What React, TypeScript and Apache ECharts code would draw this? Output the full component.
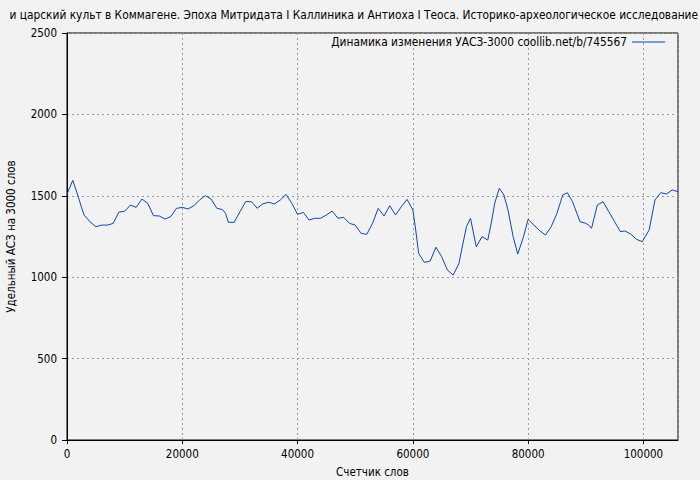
import React, { useEffect, useRef } from "react";
import * as echarts from "echarts";

const titleText =
  "и царский культ в Коммагене. Эпоха Митридата I Каллиника и Антиоха I Теоса. Историко-археологическое исследование";
const seriesName = "Динамика изменения УАСЗ-3000 coollib.net/b/745567";
const xAxisName = "Счетчик слов";
const yAxisName = "Удельный АСЗ на 3000 слов";

const wordCounts = [
  0, 1000, 2000, 2500, 3000, 4000, 5000, 6000, 7000, 8000, 9000, 10000, 11000, 12000, 13000, 14000,
  15000, 16000, 17000, 18000, 19000, 20000, 21000, 22000, 23000, 24000, 25000, 26000, 27000, 27500,
  28000, 29000, 30000, 31000, 32000, 33000, 34000, 35000, 36000, 37000, 38000, 39000, 40000, 41000,
  42000, 43000, 44000, 45000, 46000, 47000, 48000, 49000, 50000, 51000, 52000, 53000, 54000, 55000,
  56000, 57000, 58000, 59000, 60000, 60500, 61000, 62000, 63000, 64000, 65000, 66000, 67000, 68000,
  68700, 69300, 70000, 71000, 72000, 73000, 73700, 74200, 75000, 75800, 76500, 77400, 78200, 79200,
  80000, 81000, 82000, 83000, 84000, 85000, 86000, 86800, 87700, 89000, 90000, 90500, 91000, 92000,
  93000, 94000, 95000, 96000, 96800, 97800, 98800, 99800, 101000, 102000, 103000, 104000, 105000,
  106000,
];
const asValues = [
  1510, 1595, 1490, 1430, 1380, 1340, 1310, 1320, 1320, 1330, 1400, 1405, 1443, 1429, 1480, 1454,
  1378, 1376, 1357, 1372, 1423, 1429, 1419, 1439, 1474, 1501, 1480, 1423, 1415, 1392,
  1337, 1337, 1402, 1464, 1464, 1423, 1451, 1460, 1450, 1474, 1509, 1454, 1386, 1398,
  1351, 1362, 1362, 1382, 1406, 1362, 1368, 1331, 1320, 1270, 1263, 1331, 1423, 1376,
  1439, 1382, 1433, 1478, 1413, 1290, 1147, 1091, 1099, 1184, 1126, 1044, 1013, 1085,
  1208, 1310, 1362, 1187, 1249, 1228, 1351, 1454, 1546, 1505, 1413, 1249, 1142, 1249,
  1355, 1320, 1286, 1259, 1310, 1392, 1505, 1519, 1464, 1341, 1331, 1320, 1300, 1443,
  1464, 1402, 1341, 1280, 1284, 1265, 1233, 1218, 1290, 1474, 1519, 1511, 1536,
  1525,
];

const FONT = "'DejaVu Sans Condensed', 'DejaVu Sans', sans-serif";
const LINE_COLOR = "#0a47b8";

export default function App() {
  const ref = useRef<HTMLDivElement>(null);
  useEffect(() => {
    if (!ref.current) return;
    const chart = echarts.init(ref.current, null, { renderer: "svg" });
    const data = wordCounts.map((x, i) => [x, asValues[i]]);
    chart.setOption({
      animation: false,
      backgroundColor: "#f2f2f2",
      textStyle: { fontFamily: FONT },
      title: {
        text: titleText,
        right: 2,
        top: 9,
        padding: 0,
        textStyle: { fontFamily: FONT, fontSize: 11.8, fontWeight: "normal", color: "#000" },
      },
      legend: {
        show: true,
        data: [{ name: seriesName, icon: "rect" }],
        right: 35,
        top: 36,
        padding: 0,
        align: "right",
        itemWidth: 33,
        itemHeight: 1,
        itemGap: 7,
        textStyle: { fontFamily: FONT, fontSize: 11.8, color: "#000" },
      },
      grid: {
        left: 67,
        right: 22,
        top: 33,
        bottom: 40,
        outerBoundsMode: "none",
        containLabel: false,
        show: true,
        borderColor: "#000",
        borderWidth: 1,
        backgroundColor: "transparent",
      },
      xAxis: {
        type: "value",
        min: 0,
        max: 106000,
        interval: 20000,
        name: xAxisName,
        nameLocation: "middle",
        nameGap: 26,
        nameTextStyle: { fontFamily: FONT, fontSize: 11.5, color: "#000" },
        axisLine: { lineStyle: { color: "#000" } },
        axisTick: { show: true, length: 4, lineStyle: { color: "#000" } },
        axisLabel: {
          showMaxLabel: false,
          fontFamily: FONT,
          fontSize: 11.5,
          color: "#000",
          margin: 8,
          formatter: (v: number) => String(v),
        },
        splitLine: { show: true, lineStyle: { color: "#999", type: [2, 3], width: 1 } },
      },
      yAxis: {
        type: "value",
        min: 0,
        max: 2500,
        interval: 500,
        name: yAxisName,
        nameLocation: "middle",
        nameGap: 50,
        nameTextStyle: { fontFamily: FONT, fontSize: 11.5, color: "#000" },
        axisLine: { show: true, lineStyle: { color: "#000" } },
        axisTick: { show: true, length: 5, lineStyle: { color: "#000" } },
        axisLabel: {
          fontFamily: FONT,
          fontSize: 11.5,
          color: "#000",
          margin: 10,
          formatter: (v: number) => String(v),
        },
        splitLine: { show: true, lineStyle: { color: "#999", type: [2, 3], width: 1 } },
      },
      series: [
        {
          name: seriesName,
          type: "line",
          data,
          symbol: "none",
          showSymbol: false,
          color: LINE_COLOR,
          lineStyle: { color: LINE_COLOR, width: 1 },
          itemStyle: { color: LINE_COLOR },
        },
      ],
    });
    return () => chart.dispose();
  }, []);
  return <div ref={ref} style={{ width: 700, height: 480, position: "absolute", left: 0, top: 0 }} />;
}
